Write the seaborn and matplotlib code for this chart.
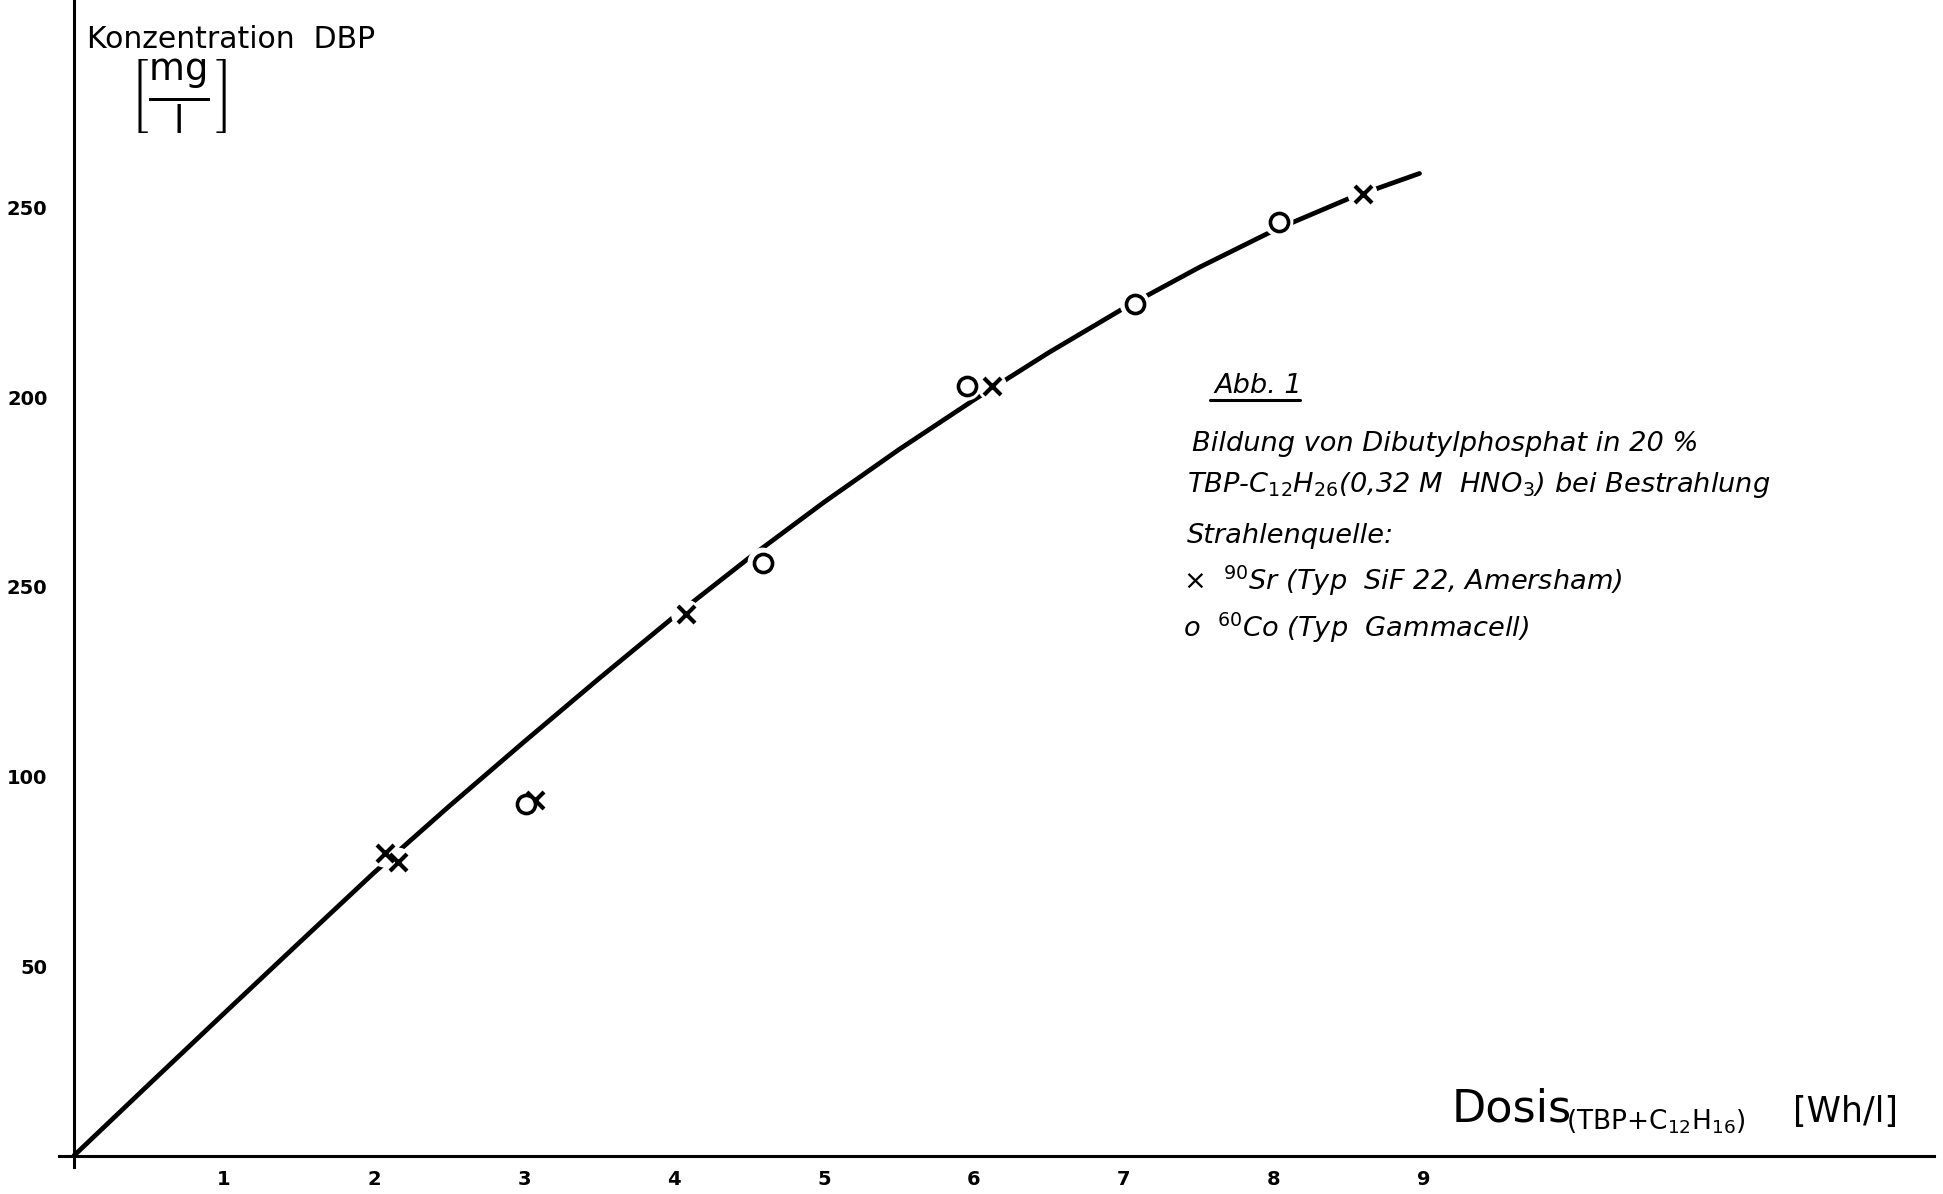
import matplotlib
matplotlib.use("Agg")
import matplotlib.pyplot as plt
import seaborn as sns
import pandas as pd
from matplotlib.lines import Line2D

# ---- data ----
curve_x = [0, 0.5, 1, 1.5, 2, 2.5, 3, 3.5, 4, 4.5, 5, 5.5, 6, 6.5, 7, 7.5, 8, 8.5, 8.97]
curve_y = [0, 18.8, 37.5, 56.1, 74.6, 92.1, 109.1, 125.8, 142.1, 157.6, 172.3, 186.2,
           199.3, 211.8, 223.5, 234.2, 244.0, 252.4, 259.0]

sr_x = [2.07, 2.16, 3.07, 4.08, 6.12, 8.59]
sr_y = [79.9, 77.3, 93.9, 142.7, 202.9, 253.7]

co_x = [3.01, 4.59, 5.95, 7.07, 8.03]
co_y = [92.6, 156.4, 203.0, 224.7, 246.3]

x_ticks = [1, 2, 3, 4, 5, 6, 7, 8, 9]
x_ticklabels = ["1", "2", "3", "4", "5", "6", "7", "8", "9"]
y_ticks = [50, 100, 150, 200, 250]
y_ticklabels = ["50", "100", "250", "200", "250"]

sns.set_style("white")
plt.rcParams["font.family"] = ["DejaVu Sans"]
plt.rcParams["mathtext.fontset"] = "dejavusans"
plt.rcParams["text.color"] = "black"
plt.rcParams["xtick.color"] = "black"
plt.rcParams["ytick.color"] = "black"

W, H = 1943, 1194
fig = plt.figure(figsize=(W / 100, H / 100), dpi=100)
ax = fig.add_axes([59 / W, (H - 1167) / H, 1875 / W, 1168 / H])

df_curve = pd.DataFrame({"x": curve_x, "y": curve_y})
df_sr = pd.DataFrame({"x": sr_x, "y": sr_y})
df_co = pd.DataFrame({"x": co_x, "y": co_y})
df_all = pd.concat([df_sr, df_co], ignore_index=True)

sns.lineplot(data=df_curve, x="x", y="y", ax=ax, color="black", lw=3.4,
             sort=False, estimator=None, zorder=2)
# white halos that break the hand-drawn line around each symbol
sns.scatterplot(data=df_all, x="x", y="y", ax=ax, marker="o", s=460,
                color="white", edgecolor="none", linewidth=0, zorder=3)
sns.scatterplot(data=df_sr, x="x", y="y", ax=ax, marker="x", s=150,
                color="black", linewidth=3.0, zorder=4)
sns.scatterplot(data=df_co, x="x", y="y", ax=ax, marker="o", s=170,
                facecolor="white", edgecolor="black", linewidth=2.6, zorder=4)

ax.set_xlim(-0.1, 12.4)
ax.set_ylim(-3, 305)
ax.spines["left"].set_position(("data", 0))
ax.spines["bottom"].set_position(("data", 0))
ax.spines["top"].set_visible(False)
ax.spines["right"].set_visible(False)
for s in ("left", "bottom"):
    ax.spines[s].set_linewidth(2.2)
    ax.spines[s].set_color("black")

tick_font = dict(fontsize=14, fontweight="bold")
ax.set_xticks(x_ticks)
ax.set_xticklabels(x_ticklabels, **tick_font)
ax.set_yticks(y_ticks)
ax.set_yticklabels(y_ticklabels, **tick_font)
ax.tick_params(axis="x", direction="inout", length=16, width=2.2, pad=2)
ax.tick_params(axis="y", direction="inout", length=16, width=2.2, pad=11)
ax.set_xlabel("")
ax.set_ylabel("")
ax.grid(False)


def fx(x):
    return x / W


def fy(y):
    return 1 - y / H


# y-axis title
fig.text(fx(87), fy(48), "Konzentration  DBP", fontsize=21.5, va="baseline", ha="left")
fig.text(fx(178), fy(97), r"$\left[\frac{\mathrm{mg}}{\mathrm{l}}\right]$", fontsize=38,
         va="center", ha="center")

# x-axis title
fig.text(fx(1452), fy(1121), "Dosis", fontsize=32, va="baseline", ha="left")
fig.text(fx(1566), fy(1129), r"(TBP+C$_{12}$H$_{16}$)", fontsize=19, va="baseline", ha="left")
fig.text(fx(1793), fy(1122), "[Wh/l]", fontsize=25, va="baseline", ha="left")

# caption block
cap = dict(fontsize=19.6, style="italic", va="baseline", ha="left")
fig.text(fx(1214), fy(393), "Abb. 1", **cap)
fig.add_artist(Line2D([fx(1210), fx(1300)], [fy(400), fy(400)], color="black", lw=2.2))
fig.text(fx(1192), fy(451), "Bildung von Dibutylphosphat in 20 %", **cap)
fig.text(fx(1187), fy(492), r"TBP-C$_{12}$H$_{26}$(0,32 M  HNO$_{3}$) bei Bestrahlung", **cap)
fig.text(fx(1187), fy(543), "Strahlenquelle:", **cap)
fig.text(fx(1183), fy(590), r"×  $^{90}$Sr (Typ  SiF 22, Amersham)", **cap)
fig.text(fx(1183), fy(637), r"o  $^{60}$Co (Typ  Gammacell)", **cap)

fig.savefig("out.png", dpi=100)
